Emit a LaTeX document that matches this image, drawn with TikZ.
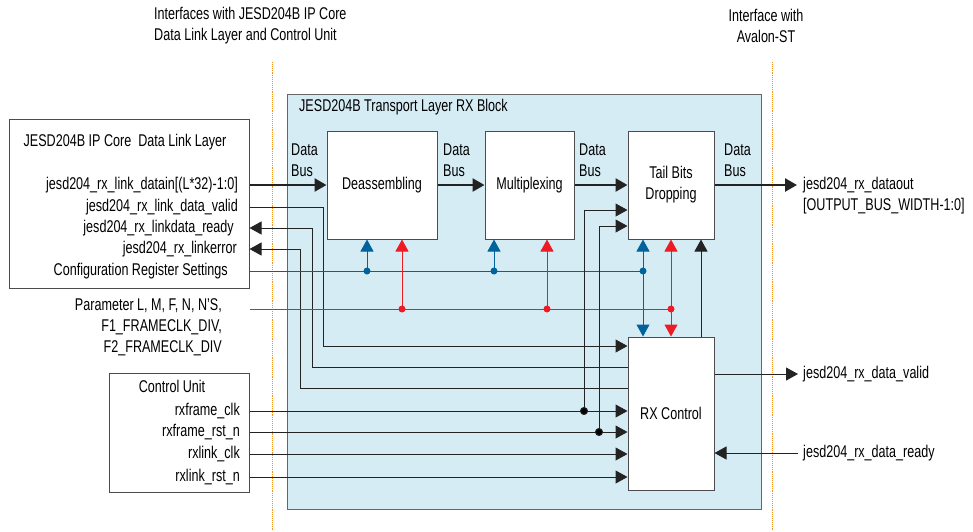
\documentclass[tikz,border=0pt]{standalone}
\usepackage{fontspec}
\setmainfont{Liberation Sans}[FakeStretch=0.74]
\usetikzlibrary{arrows.meta,positioning}
\definecolor{tlblue}{RGB}{0,99,155}
\definecolor{tlred}{RGB}{237,28,36}
\definecolor{tlfill}{RGB}{214,236,245}
\definecolor{tlorange}{RGB}{247,148,29}
\definecolor{wire}{RGB}{35,35,35}

\begin{document}
\begin{tikzpicture}[x=1pt,y=-1pt,font=\fontsize{17}{21}\selectfont,
  tip/.style={-{Triangle[length=12pt,width=13pt]}},
  blk/.style={draw=black!70,fill=white,line width=1pt,inner sep=0pt},
  lbl/.style={inner sep=0pt,anchor=east},
  wire/.style={draw=wire,line width=1pt},
  bus/.style={draw=wire,line width=2.6pt},
  dot/.style={circle,fill,inner sep=0pt,minimum size=7pt}]
\useasboundingbox (0,0) rectangle (973,531);

% interface boundaries
\foreach \x/\nm in {272/ifl,772/ifr}
  \draw[tlorange,densely dotted,line width=0.9pt] (\x,62) coordinate (\nm) -- (\x,531);
\node[anchor=west,align=left,inner sep=0pt] (ifltxt) at (154,26) {Interfaces with JESD204B IP Core\\Data Link Layer and Control Unit};
\node[align=center,inner sep=0pt] (ifrtxt) at (766,26) {Interface with\\Avalon-ST};

% transport layer
\node[draw=black!60,fill=tlfill,line width=1pt,minimum width=474pt,minimum height=415pt,anchor=north west] (rx) at (287,94) {};
\node[anchor=west,inner sep=0pt] (rxtitle) at (299,107) {JESD204B Transport Layer RX Block};
\node[blk,minimum width=110pt,minimum height=108pt] (deas) at (382,185) {Deassembling};
\node[blk,minimum width=89pt,minimum height=108pt] (mux) at (529.5,185) {Multiplexing};
\node[blk,minimum width=86pt,minimum height=108pt,align=center] (tail) at (671,185) {Tail Bits\\Dropping};
\node[blk,minimum width=86pt,minimum height=153pt] (rxc) at (671,413.5) {RX Control};

% data link layer
\node[blk,minimum width=240pt,minimum height=169pt] (dl) at (129,203.5) {};
\node[inner sep=0pt] (dltitle) at (125,142) {JESD204B IP Core\ \ Data Link Layer};
\node[lbl] (datain) at (238,185) {jesd204\_rx\_link\_datain[(L*32)-1:0]};
\node[lbl] (valid) at (238,207) {jesd204\_rx\_link\_data\_valid};
\node[lbl] (ready) at (234,228) {jesd204\_rx\_linkdata\_ready};
\node[lbl] (lerr) at (237,249) {jesd204\_rx\_linkerror};
\node[lbl] (conf) at (228,271) {Configuration Register Settings};
\node[lbl,align=right] (param) at (222,327) {Parameter L, M, F, N, N’S,\\F1\_FRAMECLK\_DIV,\\F2\_FRAMECLK\_DIV};

% control unit
\node[blk,minimum width=140pt,minimum height=119pt] (cu) at (179,432.5) {};
\node[inner sep=0pt] (cutitle) at (172,386) {Control Unit};
\foreach \y/\nm/\t in {411/fclk/rxframe\_clk,432/frst/rxframe\_rst\_n,454/lclk/rxlink\_clk,477/lrst/rxlink\_rst\_n}
  \node[lbl] (\nm) at (240,\y) {\t};

% data bus
\foreach \x/\nm in {291/db1,443/db2,579/db3,724/db4}
  \node[anchor=west,align=left,inner sep=0pt] (\nm) at (\x,160) {Data\\Bus};
\draw[bus,tip] (dl.east |- deas.west) -- (deas.west);
\draw[bus,tip] (deas.east) -- (mux.west);
\draw[bus,tip] (mux.east) -- (tail.west);
\coordinate (dout) at (797,185);
\draw[bus,tip] (tail.east) -- (dout);
\node[anchor=west,align=left,inner sep=0pt] (douttxt) at (803,196) {jesd204\_rx\_dataout\\{}[OUTPUT\_BUS\_WIDTH-1:0]};

% link layer handshakes
\coordinate (vv) at (323,346);
\coordinate (rr) at (312,367);
\coordinate (ee) at (300,388);
\draw[wire,tip] (dl.east |- valid) -| (vv) -- (rxc.west |- vv);
\draw[wire,tip] (rxc.west |- rr) -- (rr) |- (dl.east |- ready);
\draw[wire,tip] (rxc.west |- ee) -- (ee) |- (dl.east |- lerr);

% configuration (blue) and parameters (red)
\foreach \x/\nm in {367/b1,494/b2,643/b3}
  \coordinate (\nm) at (\x,271);
\foreach \x/\nm in {402/r1,547/r2,671/r3}
  \coordinate (\nm) at (\x,309);
\coordinate (rs) at (250,309);
\draw[tlblue,line width=1pt] (dl.east |- conf) -- (b3);
\draw[tlred,line width=1pt] (rs) -- (r3);
\draw[tlblue,line width=1pt,tip] (b1) -- (b1 |- deas.south);
\draw[tlblue,line width=1pt,tip] (b2) -- (b2 |- mux.south);
\draw[tlblue,line width=1pt,tip] (b3) -- (b3 |- tail.south);
\draw[tlblue,line width=1pt,tip] (b3) -- (b3 |- rxc.north);
\draw[tlred,line width=1pt,tip] (r1) -- (r1 |- deas.south);
\draw[tlred,line width=1pt,tip] (r2) -- (r2 |- mux.south);
\draw[tlred,line width=1pt,tip] (r3) -- (r3 |- tail.south);
\draw[tlred,line width=1pt,tip] (r3) -- (r3 |- rxc.north);
\foreach \nm in {b1,b2,b3} \node[dot,tlblue] at (\nm) {};
\foreach \nm in {r1,r2,r3} \node[dot,tlred] at (\nm) {};
\coordinate (up) at (701,337);
\draw[wire,tip] (up) -- (up |- tail.south);

% clocks and resets
\foreach \nm in {fclk,frst,lclk,lrst}
  \draw[wire,tip] (cu.east |- \nm) -- (rxc.west |- \nm);
\coordinate (c1) at (584,411);
\coordinate (c2) at (599,432);
\draw[wire,tip] (c1) |- ([yshift=-25pt]tail.west);
\draw[wire,tip] (c2) |- ([yshift=-41pt]tail.west);
\node[dot,wire] at (c1) {};
\node[dot,wire] at (c2) {};

% avalon-st side
\coordinate (vout) at (798,374);
\coordinate (rin) at (798,453);
\draw[wire,tip] (rxc.east |- vout) -- (vout);
\draw[wire,tip] (rin) -- (rxc.east |- rin);
\node[anchor=west,inner sep=0pt] (vtxt) at (803,374) {jesd204\_rx\_data\_valid};
\node[anchor=west,inner sep=0pt] (rtxt) at (803,453) {jesd204\_rx\_data\_ready};
\end{tikzpicture}
\end{document}
